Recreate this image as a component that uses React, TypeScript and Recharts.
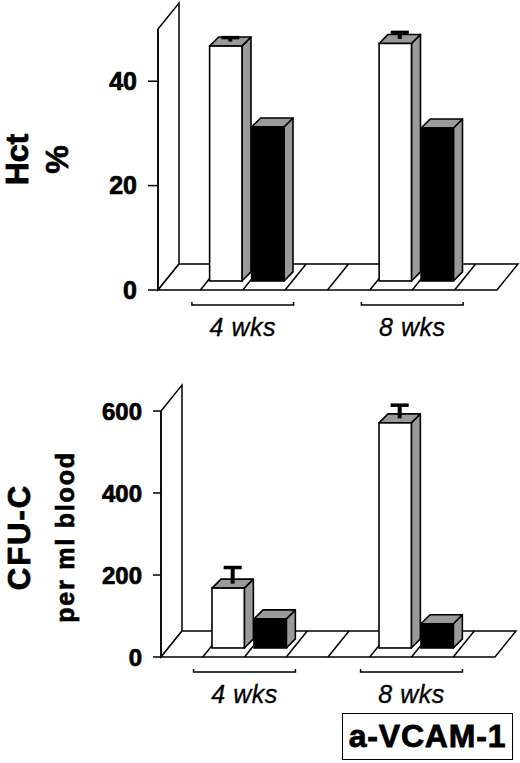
import React from 'react';
import { BarChart, Bar, XAxis, YAxis, ReferenceArea } from 'recharts';

const groups = ['4 wks', '8 wks'];

const hctControl = [45, 45.5];
const hctControlErr = [0.9, 1.4];
const hctTreated = [29.5, 29.3];
const hctTicks = [0, 20, 40];

const cfuControl = [146, 549];
const cfuControlErr = [41, 34];
const cfuTreated = [71, 59];
const cfuTicks = [0, 200, 400, 600];

const FONT = '"Liberation Sans", Arial, Helvetica, sans-serif';
const GREY = '#9a9a9a';
const SLOTS_PER_GROUP = 4;
const FLOOR_DX = 21;
const FLOOR_DY = -26;

const hctData = groups.map((g, i) => ({
  group: g,
  control: hctControl[i],
  controlErr: hctControlErr[i],
  treated: hctTreated[i],
}));

const cfuData = groups.map((g, i) => ({
  group: g,
  control: cfuControl[i],
  controlErr: cfuControlErr[i],
  treated: cfuTreated[i],
}));

// 3D box drawn from the rect recharts hands us (front plane, full slot width)
function bar3d(face: string, dataKey: string, errKey?: string) {
  return (props: any) => {
    const { x, y, width, height, payload } = props;
    if (height == null || width == null) return <g />;
    const w = width;
    const sx = w * 0.22;
    const lift = w * 0.215;
    const fw = w * 0.77;
    const d = w * 0.215;
    const fx = x + sx;
    const fy = y - lift;
    const sw = 1.6;
    let err = null;
    if (errKey && payload && payload[errKey]) {
      const errPx = (payload[errKey] * height) / payload[dataKey];
      const cx = fx + fw / 2 + d / 2;
      const cy = fy - d / 2;
      const top = cy - errPx;
      err = (
        <g>
          <line x1={cx} y1={cy} x2={cx} y2={top} stroke="#000" strokeWidth={4} />
          <rect x={cx - w * 0.215} y={top - 1} width={w * 0.43} height={3.5} fill="#000" />
        </g>
      );
    }
    return (
      <g>
        <polygon
          points={`${fx + fw},${fy} ${fx + fw + d},${fy - d} ${fx + fw + d},${fy - d + height} ${fx + fw},${fy + height}`}
          fill={GREY}
          stroke="#000"
          strokeWidth={sw}
          strokeLinejoin="round"
        />
        <polygon
          points={`${fx},${fy} ${fx + d},${fy - d} ${fx + fw + d},${fy - d} ${fx + fw},${fy}`}
          fill={GREY}
          stroke="#000"
          strokeWidth={sw}
          strokeLinejoin="round"
        />
        <rect x={fx} y={fy} width={fw} height={height} fill={face} stroke="#000" strokeWidth={sw} />
        {err}
      </g>
    );
  };
}

// left wall + divided floor, sized from the plot area of the reference area
function stage(nSlots: number) {
  return (props: any) => {
    const { x, y, width, height } = props;
    const y0 = y + height;
    const slot = width / nSlots;
    const lines = [];
    for (let i = 1; i < nSlots; i++) {
      const sx = x + i * slot;
      lines.push(
        <line key={i} x1={sx} y1={y0} x2={sx + FLOOR_DX} y2={y0 + FLOOR_DY} stroke="#000" strokeWidth={1.5} />
      );
    }
    return (
      <g>
        <polygon
          points={`${x},${y0} ${x},${y} ${x + FLOOR_DX},${y + FLOOR_DY} ${x + FLOOR_DX},${y0 + FLOOR_DY}`}
          fill="#fff"
          stroke="#000"
          strokeWidth={1.5}
        />
        <polygon
          points={`${x},${y0} ${x + width},${y0} ${x + width + FLOOR_DX},${y0 + FLOOR_DY} ${x + FLOOR_DX},${y0 + FLOOR_DY}`}
          fill="#fff"
          stroke="#000"
          strokeWidth={1.5}
        />
        {lines}
      </g>
    );
  };
}

function groupTick(half: number) {
  return (props: any) => {
    const { x, y, payload } = props;
    const by = y + 15;
    return (
      <g>
        <path
          d={`M${x - half},${by - 3} L${x - half},${by} L${x + half},${by} L${x + half},${by - 3}`}
          fill="none"
          stroke="#000"
          strokeWidth={1.5}
        />
        <text
          x={x}
          y={y + 46}
          textAnchor="middle"
          fontFamily={FONT}
          fontStyle="italic"
          fontSize={25}
          letterSpacing={0.5}
          fill="#000"
          stroke="#000"
          strokeWidth={0.3}
        >
          {payload.value}
        </text>
      </g>
    );
  };
}

function axisTitle(main: string, sub: string, mainSize: number, subSize: number, mainX: number, subX: number, mainLs: number, subLs: number, dy: number) {
  return (props: any) => {
    const vb = props.viewBox || { x: 0, y: 0, width: 0, height: 0 };
    const cy = vb.y + vb.height / 2 + dy;
    const mx = vb.x + mainX;
    const sx = vb.x + subX;
    return (
      <g>
        <text
          x={mx}
          y={cy}
          transform={`rotate(-90 ${mx} ${cy})`}
          textAnchor="middle"
          dominantBaseline="central"
          fontFamily={FONT}
          fontWeight="bold"
          fontSize={mainSize}
          letterSpacing={mainLs}
          fill="#000"
          stroke="#000"
          strokeWidth={0.8}
        >
          {main}
        </text>
        <text
          x={sx}
          y={cy}
          transform={`rotate(-90 ${sx} ${cy})`}
          textAnchor="middle"
          dominantBaseline="central"
          fontFamily={FONT}
          fontWeight="bold"
          fontSize={subSize}
          letterSpacing={subLs}
          fill="#000"
          stroke="#000"
          strokeWidth={0.7}
        >
          {sub}
        </text>
      </g>
    );
  };
}

const TOP = { w: 520, h: 350, left: 158, right: 23, top: 29, xh: 60 };
const BOT = { w: 520, h: 360, left: 161, right: 25, top: 51, xh: 63 };

const tickFont = (size: number) => ({
  fontFamily: FONT,
  fontWeight: 'bold',
  fontSize: size,
  fill: '#000',
  stroke: '#000',
  strokeWidth: 0.7,
});

export default function App() {
  const topBand = (TOP.w - TOP.left - TOP.right) / groups.length;
  const botBand = (BOT.w - BOT.left - BOT.right) / groups.length;
  return (
    <div style={{ position: 'absolute', left: 0, top: 0, width: 520, height: 763, background: '#fff' }}>
      <div style={{ position: 'absolute', left: 0, top: 0 }}>
        <BarChart
          width={TOP.w}
          height={TOP.h}
          data={hctData}
          margin={{ top: TOP.top, right: TOP.right, left: 0, bottom: 0 }}
          barCategoryGap="25%"
          barGap={0}
        >
          <ReferenceArea y1={0} y2={50} shape={stage(groups.length * SLOTS_PER_GROUP)} zIndex={-50} />
          <XAxis
            dataKey="group"
            height={TOP.xh}
            axisLine={false}
            tickLine={false}
            tickSize={0}
            tickMargin={0}
            interval={0}
            tick={groupTick(topBand * 0.3)}
          />
          <YAxis
            type="number"
            domain={[0, 50]}
            ticks={hctTicks}
            width={TOP.left}
            tickSize={10}
            tickMargin={11}
            axisLine={{ stroke: '#000', strokeWidth: 1.5 }}
            tickLine={{ stroke: '#000', strokeWidth: 1.5 }}
            tick={tickFont(25)}
            label={{ content: axisTitle('Hct', '%', 32, 32, 17, 57, 0, 0, 0) }}
          />
          <Bar dataKey="control" isAnimationActive={false} shape={bar3d('#fff', 'control', 'controlErr')} />
          <Bar dataKey="treated" isAnimationActive={false} shape={bar3d('#000', 'treated')} />
        </BarChart>
      </div>
      <div style={{ position: 'absolute', left: 0, top: 360 }}>
        <BarChart
          width={BOT.w}
          height={BOT.h}
          data={cfuData}
          margin={{ top: BOT.top, right: BOT.right, left: 0, bottom: 0 }}
          barCategoryGap="25%"
          barGap={0}
        >
          <ReferenceArea y1={0} y2={600} shape={stage(groups.length * SLOTS_PER_GROUP)} zIndex={-50} />
          <XAxis
            dataKey="group"
            height={BOT.xh}
            axisLine={false}
            tickLine={false}
            tickSize={0}
            tickMargin={0}
            interval={0}
            tick={groupTick(botBand * 0.305)}
          />
          <YAxis
            type="number"
            domain={[0, 600]}
            ticks={cfuTicks}
            width={BOT.left}
            tickSize={8}
            tickMargin={11}
            axisLine={{ stroke: '#000', strokeWidth: 1.5 }}
            tickLine={{ stroke: '#000', strokeWidth: 1.5 }}
            tick={tickFont(24)}
            label={{ content: axisTitle('CFU-C', 'per ml blood', 31, 25, 19, 65, 2, 1.8, 3) }}
          />
          <Bar dataKey="control" isAnimationActive={false} shape={bar3d('#fff', 'control', 'controlErr')} />
          <Bar dataKey="treated" isAnimationActive={false} shape={bar3d('#000', 'treated')} />
        </BarChart>
      </div>
      <div
        style={{
          position: 'absolute',
          left: 342,
          top: 713,
          width: 171,
          height: 47,
          boxSizing: 'border-box',
          border: '1.5px solid #000',
          display: 'flex',
          alignItems: 'center',
          justifyContent: 'center',
          fontFamily: FONT,
          fontWeight: 'bold',
          fontSize: 32,
          letterSpacing: 0.8,
          color: '#000',
          WebkitTextStroke: '0.8px #000',
        }}
      >
        a-VCAM-1
      </div>
    </div>
  );
}
